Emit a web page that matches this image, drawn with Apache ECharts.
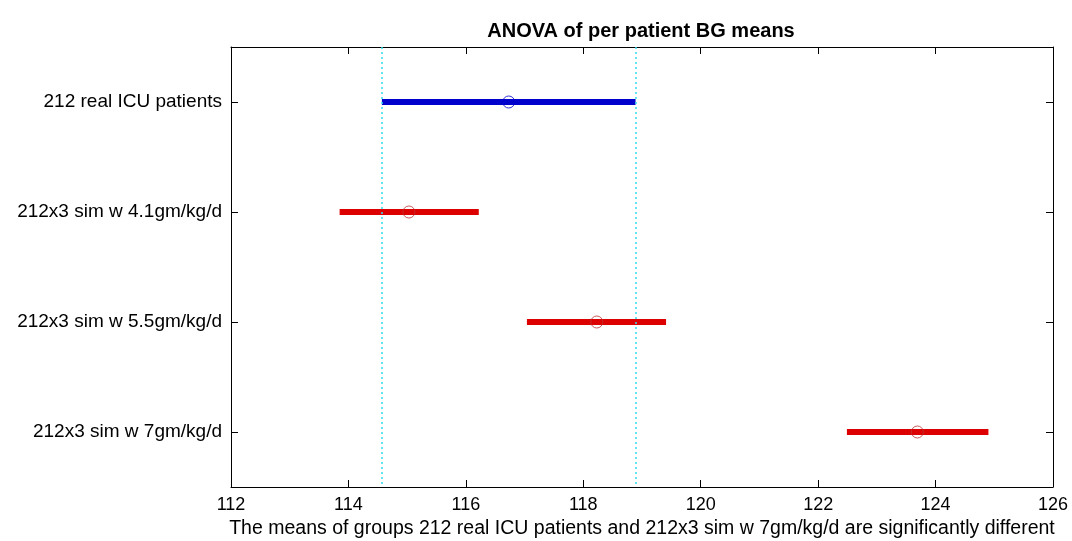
<!DOCTYPE html>
<html>
<head>
<meta charset="utf-8">
<script src="https://cdn.jsdelivr.net/npm/echarts@6/dist/echarts.min.js"></script>
<style>html,body{margin:0;padding:0;background:#fff}#c{width:1072px;height:541px}</style>
</head>
<body>
<div id="c"></div>
<script>
var groups = ['212 real ICU patients', '212x3 sim w 4.1gm/kg/d', '212x3 sim w 5.5gm/kg/d', '212x3 sim w 7gm/kg/d'];
var means = [116.73, 115.03, 118.23, 123.69];
var lowers = [114.57, 113.85, 117.04, 122.49];
var uppers = [118.89, 116.22, 119.41, 124.90];
var barColors = ['#0000cc', '#dd0000', '#dd0000', '#dd0000'];
var xTicks = [112, 114, 116, 118, 120, 122, 124, 126];
var refLines = [114.57, 118.89];

var font = 'Liberation Sans, Arial, sans-serif';
var chart = echarts.init(document.getElementById('c'));
var series = [];
groups.forEach(function (g, i) {
  series.push({
    type: 'line',
    data: [[lowers[i], g], [uppers[i], g]],
    symbol: 'none',
    lineStyle: { color: barColors[i], width: 6, cap: 'butt' },
    z: 3,
    silent: true,
    markLine: i === 0 ? {
      symbol: 'none',
      silent: true,
      label: { show: false },
      lineStyle: { color: '#33ddee', type: [2, 3], width: 1.5 },
      data: refLines.map(function (v) { return { xAxis: v }; })
    } : undefined
  });
  series.push({
    type: 'scatter',
    data: [[means[i], g]],
    symbol: 'circle',
    symbolSize: 12,
    itemStyle: { color: 'rgba(0,0,0,0)', borderColor: i === 0 ? '#0000cc' : '#bb3333', borderWidth: 1 },
    z: 4,
    silent: true
  });
});

var axisLineStyle = { show: true, lineStyle: { color: '#000', width: 1 } };
var tickStyle = { show: true, inside: true, length: 7, lineStyle: { color: '#000' } };

chart.setOption({
  animation: false,
  backgroundColor: '#fff',
  title: {
    text: 'ANOVA of per patient BG means',
    left: 636, textAlign: 'center', top: 16,
    textStyle: { fontFamily: font, fontSize: 20, fontWeight: 'bold', color: '#000' }
  },
  grid: { left: 231, right: 19, top: 47, bottom: 54, outerBoundsMode: 'none', containLabel: false },
  xAxis: [{
    type: 'value', min: 112, max: 126, interval: 2,
    axisLine: axisLineStyle,
    axisTick: tickStyle,
    axisLabel: { color: '#000', fontFamily: font, fontSize: 18, margin: 9,
      formatter: function (v) { return xTicks.indexOf(v) >= 0 ? String(v) : ''; } },
    splitLine: { show: false },
    name: 'The means of groups 212 real ICU patients and 212x3 sim w 7gm/kg/d are significantly different',
    nameLocation: 'middle', nameGap: 31,
    nameTextStyle: { color: '#000', fontFamily: font, fontSize: 19.5 }
  }, {
    type: 'value', min: 112, max: 126, interval: 2, position: 'top',
    axisLine: axisLineStyle,
    axisTick: tickStyle,
    axisLabel: { show: false }, splitLine: { show: false }
  }],
  yAxis: [{
    type: 'category', data: groups, inverse: true,
    axisLine: axisLineStyle,
    axisTick: { show: true, inside: true, length: 7, alignWithLabel: true, lineStyle: { color: '#000' } },
    axisLabel: { color: '#000', fontFamily: font, fontSize: 19, margin: 9 },
    splitLine: { show: false }
  }, {
    type: 'category', data: groups, inverse: true, position: 'right',
    axisLine: axisLineStyle,
    axisTick: { show: true, inside: true, length: 7, alignWithLabel: true, lineStyle: { color: '#000' } },
    axisLabel: { show: false }, splitLine: { show: false }
  }],
  series: series
});
</script>
</body>
</html>
